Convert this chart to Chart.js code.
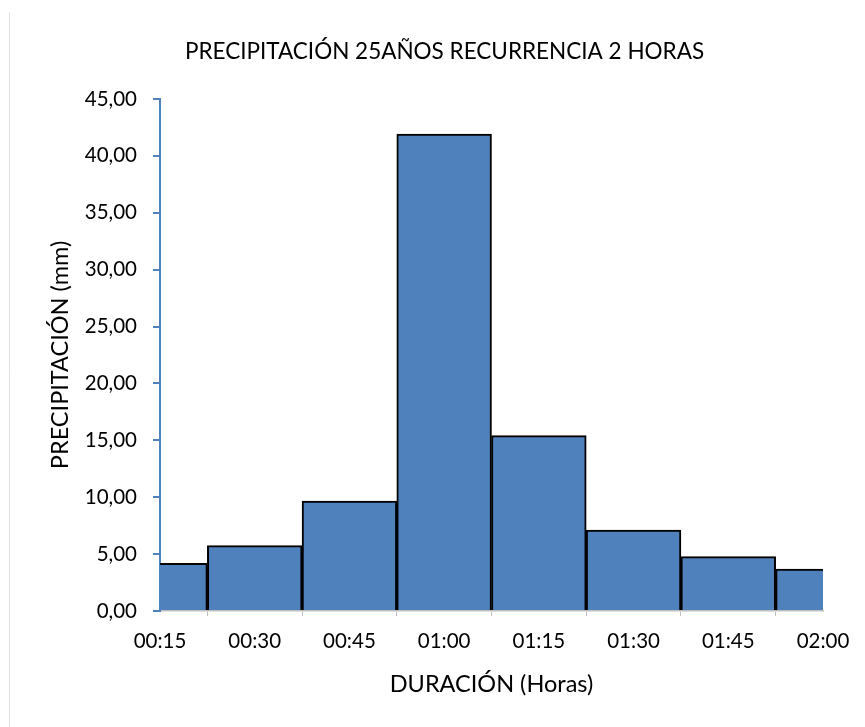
<!DOCTYPE html>
<html>
<head>
<meta charset="utf-8">
<script src="https://cdn.jsdelivr.net/npm/chart.js@4.4.1/dist/chart.umd.min.js"></script>
<style>
  html, body { margin: 0; padding: 0; background: #fff; }
  #wrap { width: 865px; height: 727px; }
</style>
</head>
<body>
<div id="wrap"><canvas id="precipChart" width="865" height="727"></canvas></div>
<script>
// datos
const duracion = ['00:15', '00:30', '00:45', '01:00', '01:15', '01:30', '01:45', '02:00'];
const precipitacion = [4.19, 5.74, 9.67, 41.92, 15.42, 7.12, 4.78, 3.69];
const yTicks = { min: 0, max: 45, step: 5 };

const tituloGrafico = 'PRECIPITACIÓN 25AÑOS RECURRENCIA 2 HORAS';
const tituloX = 'DURACIÓN (Horas)';
const tituloY = 'PRECIPITACIÓN (mm)';

Chart.defaults.font.family = 'Lato, "Open Sans", sans-serif';
Chart.defaults.color = '#000';

// linea gris tenue del borde izquierdo
const bordeIzq = {
    id: 'bordeIzq',
    beforeDraw(chart) {
        const c = chart.ctx;
        c.save();
        c.strokeStyle = '#dfe3ec';
        c.lineWidth = 1;
        c.beginPath();
        c.moveTo(9.5, 12);
        c.lineTo(9.5, 727);
        c.stroke();
        c.restore();
    }
};

const ctx = document.getElementById('precipChart').getContext('2d');
new Chart(ctx, {
    type: 'bar',
    data: {
        labels: duracion,
        datasets: [{
            label: 'Precipitación',
            data: precipitacion,
            backgroundColor: '#4f81bd',
            borderColor: '#000',
            borderWidth: 2,
            borderSkipped: 'start',
            barPercentage: 1,
            categoryPercentage: 1,
            clip: 0
        }]
    },
    options: {
        responsive: false,
        animation: false,
        layout: { padding: { left: 24, right: 0, top: 0, bottom: 0 } },
        plugins: {
            legend: { display: false },
            tooltip: { enabled: false },
            title: {
                display: true,
                text: tituloGrafico,
                font: { size: 22.5, weight: 'normal' },
                color: '#000',
                padding: { top: 38.5, bottom: 33.5 }
            }
        },
        scales: {
            x: {
                offset: false,
                afterFit(scale) { scale.height = 116; },
                border: { color: '#bfbfbf', width: 1.5 },
                grid: {
                    offset: true,
                    drawOnChartArea: false,
                    drawTicks: true,
                    tickLength: 5,
                    color: '#bfbfbf',
                    lineWidth: 1
                },
                ticks: {
                    autoSkip: false,
                    maxRotation: 0,
                    padding: 13,
                    font: { size: 20.5 }
                },
                title: {
                    display: true,
                    text: tituloX,
                    font: { size: 23.5 },
                    padding: { top: 0, bottom: 28 }
                }
            },
            y: {
                min: yTicks.min,
                max: yTicks.max,
                afterFit(scale) { scale.width = 136; },
                border: { color: '#4f81bd', width: 2 },
                grid: {
                    drawOnChartArea: false,
                    drawTicks: true,
                    tickLength: 7,
                    color: '#4f81bd',
                    lineWidth: 2
                },
                ticks: {
                    stepSize: yTicks.step,
                    padding: 16,
                    font: { size: 20.5 },
                    callback: v => v.toFixed(2).replace('.', ',')
                },
                title: {
                    display: true,
                    text: tituloY,
                    font: { size: 23.5 },
                    padding: { top: 22, bottom: 0 }
                }
            },
            // eje vacio solo para reservar el margen derecho
            margenDer: {
                type: 'linear',
                position: 'right',
                display: true,
                afterFit(scale) { scale.width = 42; },
                border: { display: false },
                grid: { display: false },
                ticks: { display: false },
                title: { display: false }
            }
        }
    },
    plugins: [bordeIzq]
});
</script>
</body>
</html>
